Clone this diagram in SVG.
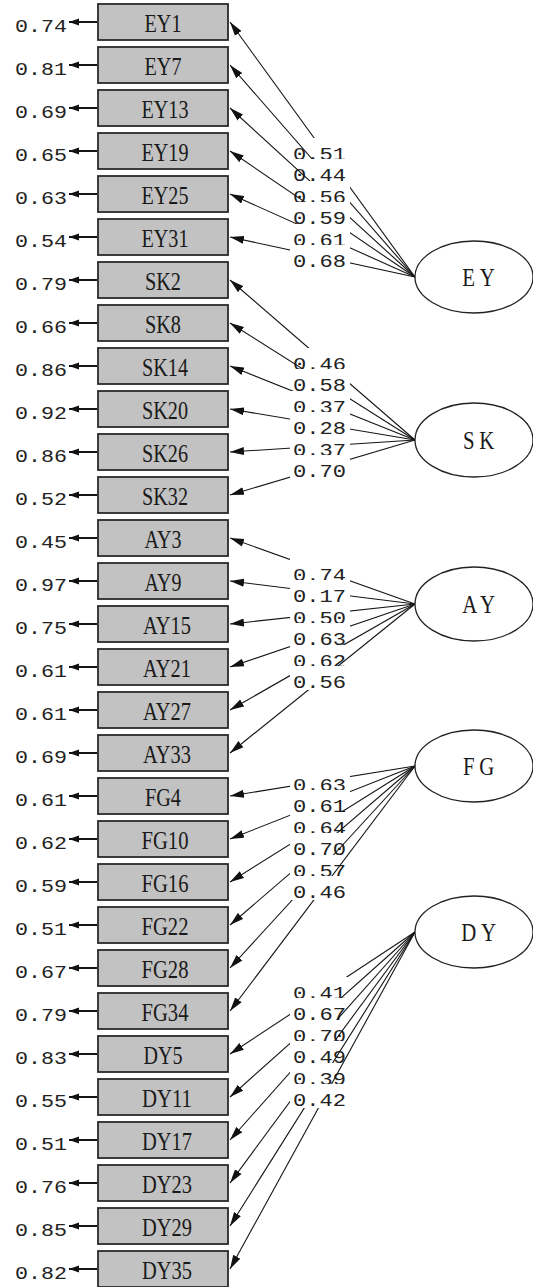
<svg xmlns="http://www.w3.org/2000/svg" width="533" height="1287" viewBox="0 0 533 1287">
<style>
.box{fill:#c2c2c2;stroke:#2a2a2a;stroke-width:1.8}
.bl{font-family:"Liberation Serif",serif;font-size:26px;fill:#1a1a1a;text-anchor:middle}
.num{font-family:"Liberation Mono",monospace;font-size:19px;fill:#222}
.p{stroke:#151515;stroke-width:1.1;fill:none;marker-end:url(#ah)}
.e{stroke:#151515;stroke-width:2;fill:none;marker-end:url(#eh)}
.lb{fill:#fff}
.lat{fill:#fff;stroke:#222;stroke-width:1.3}
.lt{font-family:"Liberation Serif",serif;font-size:26px;fill:#1a1a1a;text-anchor:middle;letter-spacing:6px}
</style>
<defs>
<marker id="ah" markerUnits="userSpaceOnUse" markerWidth="15" markerHeight="9" refX="14" refY="4.5" orient="auto"><path d="M0,0.5 L14,4.5 L0,8.5 z" fill="#111"/></marker>
<marker id="eh" markerUnits="userSpaceOnUse" markerWidth="11" markerHeight="9" refX="10" refY="4.5" orient="auto"><path d="M0,1 L10,4.5 L0,8 z" fill="#111"/></marker>
</defs>
<rect width="533" height="1287" fill="#fff"/>

<g id="errors">
<g id="e-EY1"><line class="e" x1="97" y1="22" x2="69" y2="22"/><text class="num" x="15" y="32" textLength="52" lengthAdjust="spacingAndGlyphs">0.74</text></g>
<g id="e-EY7"><line class="e" x1="97" y1="65" x2="69" y2="65"/><text class="num" x="15" y="75" textLength="52" lengthAdjust="spacingAndGlyphs">0.81</text></g>
<g id="e-EY13"><line class="e" x1="97" y1="108" x2="69" y2="108"/><text class="num" x="15" y="118" textLength="52" lengthAdjust="spacingAndGlyphs">0.69</text></g>
<g id="e-EY19"><line class="e" x1="97" y1="151" x2="69" y2="151"/><text class="num" x="15" y="161" textLength="52" lengthAdjust="spacingAndGlyphs">0.65</text></g>
<g id="e-EY25"><line class="e" x1="97" y1="194" x2="69" y2="194"/><text class="num" x="15" y="204" textLength="52" lengthAdjust="spacingAndGlyphs">0.63</text></g>
<g id="e-EY31"><line class="e" x1="97" y1="237" x2="69" y2="237"/><text class="num" x="15" y="247" textLength="52" lengthAdjust="spacingAndGlyphs">0.54</text></g>
<g id="e-SK2"><line class="e" x1="97" y1="280" x2="69" y2="280"/><text class="num" x="15" y="290" textLength="52" lengthAdjust="spacingAndGlyphs">0.79</text></g>
<g id="e-SK8"><line class="e" x1="97" y1="323" x2="69" y2="323"/><text class="num" x="15" y="333" textLength="52" lengthAdjust="spacingAndGlyphs">0.66</text></g>
<g id="e-SK14"><line class="e" x1="97" y1="366" x2="69" y2="366"/><text class="num" x="15" y="376" textLength="52" lengthAdjust="spacingAndGlyphs">0.86</text></g>
<g id="e-SK20"><line class="e" x1="97" y1="409" x2="69" y2="409"/><text class="num" x="15" y="419" textLength="52" lengthAdjust="spacingAndGlyphs">0.92</text></g>
<g id="e-SK26"><line class="e" x1="97" y1="452" x2="69" y2="452"/><text class="num" x="15" y="462" textLength="52" lengthAdjust="spacingAndGlyphs">0.86</text></g>
<g id="e-SK32"><line class="e" x1="97" y1="495" x2="69" y2="495"/><text class="num" x="15" y="505" textLength="52" lengthAdjust="spacingAndGlyphs">0.52</text></g>
<g id="e-AY3"><line class="e" x1="97" y1="538" x2="69" y2="538"/><text class="num" x="15" y="548" textLength="52" lengthAdjust="spacingAndGlyphs">0.45</text></g>
<g id="e-AY9"><line class="e" x1="97" y1="581" x2="69" y2="581"/><text class="num" x="15" y="591" textLength="52" lengthAdjust="spacingAndGlyphs">0.97</text></g>
<g id="e-AY15"><line class="e" x1="97" y1="624" x2="69" y2="624"/><text class="num" x="15" y="634" textLength="52" lengthAdjust="spacingAndGlyphs">0.75</text></g>
<g id="e-AY21"><line class="e" x1="97" y1="667" x2="69" y2="667"/><text class="num" x="15" y="677" textLength="52" lengthAdjust="spacingAndGlyphs">0.61</text></g>
<g id="e-AY27"><line class="e" x1="97" y1="710" x2="69" y2="710"/><text class="num" x="15" y="720" textLength="52" lengthAdjust="spacingAndGlyphs">0.61</text></g>
<g id="e-AY33"><line class="e" x1="97" y1="753" x2="69" y2="753"/><text class="num" x="15" y="763" textLength="52" lengthAdjust="spacingAndGlyphs">0.69</text></g>
<g id="e-FG4"><line class="e" x1="97" y1="796" x2="69" y2="796"/><text class="num" x="15" y="806" textLength="52" lengthAdjust="spacingAndGlyphs">0.61</text></g>
<g id="e-FG10"><line class="e" x1="97" y1="839" x2="69" y2="839"/><text class="num" x="15" y="849" textLength="52" lengthAdjust="spacingAndGlyphs">0.62</text></g>
<g id="e-FG16"><line class="e" x1="97" y1="882" x2="69" y2="882"/><text class="num" x="15" y="892" textLength="52" lengthAdjust="spacingAndGlyphs">0.59</text></g>
<g id="e-FG22"><line class="e" x1="97" y1="925" x2="69" y2="925"/><text class="num" x="15" y="935" textLength="52" lengthAdjust="spacingAndGlyphs">0.51</text></g>
<g id="e-FG28"><line class="e" x1="97" y1="968" x2="69" y2="968"/><text class="num" x="15" y="978" textLength="52" lengthAdjust="spacingAndGlyphs">0.67</text></g>
<g id="e-FG34"><line class="e" x1="97" y1="1011" x2="69" y2="1011"/><text class="num" x="15" y="1021" textLength="52" lengthAdjust="spacingAndGlyphs">0.79</text></g>
<g id="e-DY5"><line class="e" x1="97" y1="1054" x2="69" y2="1054"/><text class="num" x="15" y="1064" textLength="52" lengthAdjust="spacingAndGlyphs">0.83</text></g>
<g id="e-DY11"><line class="e" x1="97" y1="1097" x2="69" y2="1097"/><text class="num" x="15" y="1107" textLength="52" lengthAdjust="spacingAndGlyphs">0.55</text></g>
<g id="e-DY17"><line class="e" x1="97" y1="1140" x2="69" y2="1140"/><text class="num" x="15" y="1150" textLength="52" lengthAdjust="spacingAndGlyphs">0.51</text></g>
<g id="e-DY23"><line class="e" x1="97" y1="1183" x2="69" y2="1183"/><text class="num" x="15" y="1193" textLength="52" lengthAdjust="spacingAndGlyphs">0.76</text></g>
<g id="e-DY29"><line class="e" x1="97" y1="1226" x2="69" y2="1226"/><text class="num" x="15" y="1236" textLength="52" lengthAdjust="spacingAndGlyphs">0.85</text></g>
<g id="e-DY35"><line class="e" x1="97" y1="1269" x2="69" y2="1269"/><text class="num" x="15" y="1279" textLength="52" lengthAdjust="spacingAndGlyphs">0.82</text></g>
</g>

<g id="indicators">
<g id="EY1"><rect class="box" x="98" y="4" width="130" height="36"/><text class="bl" x="163" y="32" textLength="37" lengthAdjust="spacingAndGlyphs">EY1</text></g>
<g id="EY7"><rect class="box" x="98" y="47" width="130" height="36"/><text class="bl" x="163" y="75" textLength="37" lengthAdjust="spacingAndGlyphs">EY7</text></g>
<g id="EY13"><rect class="box" x="98" y="90" width="130" height="36"/><text class="bl" x="165" y="118" textLength="47" lengthAdjust="spacingAndGlyphs">EY13</text></g>
<g id="EY19"><rect class="box" x="98" y="133" width="130" height="36"/><text class="bl" x="165" y="161" textLength="47" lengthAdjust="spacingAndGlyphs">EY19</text></g>
<g id="EY25"><rect class="box" x="98" y="176" width="130" height="36"/><text class="bl" x="165" y="204" textLength="47" lengthAdjust="spacingAndGlyphs">EY25</text></g>
<g id="EY31"><rect class="box" x="98" y="219" width="130" height="36"/><text class="bl" x="165" y="247" textLength="47" lengthAdjust="spacingAndGlyphs">EY31</text></g>
<g id="SK2"><rect class="box" x="98" y="262" width="130" height="36"/><text class="bl" x="163" y="290" textLength="36" lengthAdjust="spacingAndGlyphs">SK2</text></g>
<g id="SK8"><rect class="box" x="98" y="305" width="130" height="36"/><text class="bl" x="163" y="333" textLength="36" lengthAdjust="spacingAndGlyphs">SK8</text></g>
<g id="SK14"><rect class="box" x="98" y="348" width="130" height="36"/><text class="bl" x="165" y="376" textLength="46" lengthAdjust="spacingAndGlyphs">SK14</text></g>
<g id="SK20"><rect class="box" x="98" y="391" width="130" height="36"/><text class="bl" x="165" y="419" textLength="46" lengthAdjust="spacingAndGlyphs">SK20</text></g>
<g id="SK26"><rect class="box" x="98" y="434" width="130" height="36"/><text class="bl" x="165" y="462" textLength="46" lengthAdjust="spacingAndGlyphs">SK26</text></g>
<g id="SK32"><rect class="box" x="98" y="477" width="130" height="36"/><text class="bl" x="165" y="505" textLength="46" lengthAdjust="spacingAndGlyphs">SK32</text></g>
<g id="AY3"><rect class="box" x="98" y="520" width="130" height="36"/><text class="bl" x="163" y="548" textLength="37" lengthAdjust="spacingAndGlyphs">AY3</text></g>
<g id="AY9"><rect class="box" x="98" y="563" width="130" height="36"/><text class="bl" x="163" y="591" textLength="37" lengthAdjust="spacingAndGlyphs">AY9</text></g>
<g id="AY15"><rect class="box" x="98" y="606" width="130" height="36"/><text class="bl" x="167" y="634" textLength="48" lengthAdjust="spacingAndGlyphs">AY15</text></g>
<g id="AY21"><rect class="box" x="98" y="649" width="130" height="36"/><text class="bl" x="167" y="677" textLength="48" lengthAdjust="spacingAndGlyphs">AY21</text></g>
<g id="AY27"><rect class="box" x="98" y="692" width="130" height="36"/><text class="bl" x="167" y="720" textLength="48" lengthAdjust="spacingAndGlyphs">AY27</text></g>
<g id="AY33"><rect class="box" x="98" y="735" width="130" height="36"/><text class="bl" x="167" y="763" textLength="48" lengthAdjust="spacingAndGlyphs">AY33</text></g>
<g id="FG4"><rect class="box" x="98" y="778" width="130" height="36"/><text class="bl" x="163" y="806" textLength="36" lengthAdjust="spacingAndGlyphs">FG4</text></g>
<g id="FG10"><rect class="box" x="98" y="821" width="130" height="36"/><text class="bl" x="165" y="849" textLength="47" lengthAdjust="spacingAndGlyphs">FG10</text></g>
<g id="FG16"><rect class="box" x="98" y="864" width="130" height="36"/><text class="bl" x="165" y="892" textLength="47" lengthAdjust="spacingAndGlyphs">FG16</text></g>
<g id="FG22"><rect class="box" x="98" y="907" width="130" height="36"/><text class="bl" x="165" y="935" textLength="47" lengthAdjust="spacingAndGlyphs">FG22</text></g>
<g id="FG28"><rect class="box" x="98" y="950" width="130" height="36"/><text class="bl" x="165" y="978" textLength="47" lengthAdjust="spacingAndGlyphs">FG28</text></g>
<g id="FG34"><rect class="box" x="98" y="993" width="130" height="36"/><text class="bl" x="165" y="1021" textLength="47" lengthAdjust="spacingAndGlyphs">FG34</text></g>
<g id="DY5"><rect class="box" x="98" y="1036" width="130" height="36"/><text class="bl" x="163" y="1064" textLength="39" lengthAdjust="spacingAndGlyphs">DY5</text></g>
<g id="DY11"><rect class="box" x="98" y="1079" width="130" height="36"/><text class="bl" x="167" y="1107" textLength="50" lengthAdjust="spacingAndGlyphs">DY11</text></g>
<g id="DY17"><rect class="box" x="98" y="1122" width="130" height="36"/><text class="bl" x="167" y="1150" textLength="50" lengthAdjust="spacingAndGlyphs">DY17</text></g>
<g id="DY23"><rect class="box" x="98" y="1165" width="130" height="36"/><text class="bl" x="167" y="1193" textLength="50" lengthAdjust="spacingAndGlyphs">DY23</text></g>
<g id="DY29"><rect class="box" x="98" y="1208" width="130" height="36"/><text class="bl" x="167" y="1236" textLength="50" lengthAdjust="spacingAndGlyphs">DY29</text></g>
<g id="DY35"><rect class="box" x="98" y="1251" width="130" height="36"/><text class="bl" x="167" y="1279" textLength="50" lengthAdjust="spacingAndGlyphs">DY35</text></g>
</g>

<g id="connectors">
<line class="p" x1="415" y1="277" x2="230" y2="22"/><rect class="lb" x="290" y="138" width="60" height="24"/><text class="num" x="293" y="159.5" textLength="53" lengthAdjust="spacingAndGlyphs">0.51</text>
<line class="p" x1="415" y1="277" x2="230" y2="65"/><rect class="lb" x="290" y="159" width="60" height="24"/><text class="num" x="293" y="180.5" textLength="53" lengthAdjust="spacingAndGlyphs">0.44</text>
<line class="p" x1="415" y1="277" x2="230" y2="108"/><rect class="lb" x="290" y="181" width="60" height="24"/><text class="num" x="293" y="202.5" textLength="53" lengthAdjust="spacingAndGlyphs">0.56</text>
<line class="p" x1="415" y1="277" x2="230" y2="151"/><rect class="lb" x="290" y="202" width="60" height="24"/><text class="num" x="293" y="223.5" textLength="53" lengthAdjust="spacingAndGlyphs">0.59</text>
<line class="p" x1="415" y1="277" x2="230" y2="194"/><rect class="lb" x="290" y="224" width="60" height="24"/><text class="num" x="293" y="245.5" textLength="53" lengthAdjust="spacingAndGlyphs">0.61</text>
<line class="p" x1="415" y1="277" x2="230" y2="237"/><rect class="lb" x="290" y="245" width="60" height="24"/><text class="num" x="293" y="266.5" textLength="53" lengthAdjust="spacingAndGlyphs">0.68</text>

<line class="p" x1="415" y1="440" x2="230" y2="280"/><rect class="lb" x="290" y="348" width="60" height="24"/><text class="num" x="293" y="369.5" textLength="53" lengthAdjust="spacingAndGlyphs">0.46</text>
<line class="p" x1="415" y1="440" x2="230" y2="323"/><rect class="lb" x="290" y="369" width="60" height="24"/><text class="num" x="293" y="390.5" textLength="53" lengthAdjust="spacingAndGlyphs">0.58</text>
<line class="p" x1="415" y1="440" x2="230" y2="366"/><rect class="lb" x="290" y="391" width="60" height="24"/><text class="num" x="293" y="412.5" textLength="53" lengthAdjust="spacingAndGlyphs">0.37</text>
<line class="p" x1="415" y1="440" x2="230" y2="409"/><rect class="lb" x="290" y="412" width="60" height="24"/><text class="num" x="293" y="433.5" textLength="53" lengthAdjust="spacingAndGlyphs">0.28</text>
<line class="p" x1="415" y1="440" x2="230" y2="452"/><rect class="lb" x="290" y="434" width="60" height="24"/><text class="num" x="293" y="455.5" textLength="53" lengthAdjust="spacingAndGlyphs">0.37</text>
<line class="p" x1="415" y1="440" x2="230" y2="495"/><rect class="lb" x="290" y="455" width="60" height="24"/><text class="num" x="293" y="476.5" textLength="53" lengthAdjust="spacingAndGlyphs">0.70</text>

<line class="p" x1="415" y1="604" x2="230" y2="538"/><rect class="lb" x="290" y="559" width="60" height="24"/><text class="num" x="293" y="580.5" textLength="53" lengthAdjust="spacingAndGlyphs">0.74</text>
<line class="p" x1="415" y1="604" x2="230" y2="581"/><rect class="lb" x="290" y="580" width="60" height="24"/><text class="num" x="293" y="601.5" textLength="53" lengthAdjust="spacingAndGlyphs">0.17</text>
<line class="p" x1="415" y1="604" x2="230" y2="624"/><rect class="lb" x="290" y="602" width="60" height="24"/><text class="num" x="293" y="623.5" textLength="53" lengthAdjust="spacingAndGlyphs">0.50</text>
<line class="p" x1="415" y1="604" x2="230" y2="667"/><rect class="lb" x="290" y="623" width="60" height="24"/><text class="num" x="293" y="644.5" textLength="53" lengthAdjust="spacingAndGlyphs">0.63</text>
<line class="p" x1="415" y1="604" x2="230" y2="710"/><rect class="lb" x="290" y="645" width="60" height="24"/><text class="num" x="293" y="666.5" textLength="53" lengthAdjust="spacingAndGlyphs">0.62</text>
<line class="p" x1="415" y1="604" x2="230" y2="753"/><rect class="lb" x="290" y="666" width="60" height="24"/><text class="num" x="293" y="687.5" textLength="53" lengthAdjust="spacingAndGlyphs">0.56</text>

<line class="p" x1="415" y1="766" x2="230" y2="796"/><rect class="lb" x="290" y="769" width="60" height="24"/><text class="num" x="293" y="790.5" textLength="53" lengthAdjust="spacingAndGlyphs">0.63</text>
<line class="p" x1="415" y1="766" x2="230" y2="839"/><rect class="lb" x="290" y="790" width="60" height="24"/><text class="num" x="293" y="811.5" textLength="53" lengthAdjust="spacingAndGlyphs">0.61</text>
<line class="p" x1="415" y1="766" x2="230" y2="882"/><rect class="lb" x="290" y="812" width="60" height="24"/><text class="num" x="293" y="833.5" textLength="53" lengthAdjust="spacingAndGlyphs">0.64</text>
<line class="p" x1="415" y1="766" x2="230" y2="925"/><rect class="lb" x="290" y="833" width="60" height="24"/><text class="num" x="293" y="854.5" textLength="53" lengthAdjust="spacingAndGlyphs">0.70</text>
<line class="p" x1="415" y1="766" x2="230" y2="968"/><rect class="lb" x="290" y="855" width="60" height="24"/><text class="num" x="293" y="876.5" textLength="53" lengthAdjust="spacingAndGlyphs">0.57</text>
<line class="p" x1="415" y1="766" x2="230" y2="1011"/><rect class="lb" x="290" y="876" width="60" height="24"/><text class="num" x="293" y="897.5" textLength="53" lengthAdjust="spacingAndGlyphs">0.46</text>

<line class="p" x1="415" y1="932" x2="230" y2="1054"/><rect class="lb" x="290" y="977" width="60" height="24"/><text class="num" x="293" y="998.5" textLength="53" lengthAdjust="spacingAndGlyphs">0.41</text>
<line class="p" x1="415" y1="932" x2="230" y2="1097"/><rect class="lb" x="290" y="998" width="60" height="24"/><text class="num" x="293" y="1019.5" textLength="53" lengthAdjust="spacingAndGlyphs">0.67</text>
<line class="p" x1="415" y1="932" x2="230" y2="1140"/><rect class="lb" x="290" y="1020" width="60" height="24"/><text class="num" x="293" y="1041.5" textLength="53" lengthAdjust="spacingAndGlyphs">0.70</text>
<line class="p" x1="415" y1="932" x2="230" y2="1183"/><rect class="lb" x="290" y="1041" width="60" height="24"/><text class="num" x="293" y="1062.5" textLength="53" lengthAdjust="spacingAndGlyphs">0.49</text>
<line class="p" x1="415" y1="932" x2="230" y2="1226"/><rect class="lb" x="290" y="1063" width="60" height="24"/><text class="num" x="293" y="1084.5" textLength="53" lengthAdjust="spacingAndGlyphs">0.39</text>
<line class="p" x1="415" y1="932" x2="230" y2="1269"/><rect class="lb" x="290" y="1084" width="60" height="24"/><text class="num" x="293" y="1105.5" textLength="53" lengthAdjust="spacingAndGlyphs">0.42</text>
</g>

<g id="EY"><ellipse class="lat" cx="474" cy="277" rx="59" ry="36"/><text class="lt" transform="translate(481,286) scale(0.8,1)" x="0" y="0">EY</text></g>
<g id="SK"><ellipse class="lat" cx="474" cy="440" rx="59" ry="37"/><text class="lt" transform="translate(481,449) scale(0.8,1)" x="0" y="0">SK</text></g>
<g id="AY"><ellipse class="lat" cx="474" cy="604" rx="59" ry="37"/><text class="lt" transform="translate(481,613) scale(0.8,1)" x="0" y="0">AY</text></g>
<g id="FG"><ellipse class="lat" cx="474" cy="766" rx="59" ry="36"/><text class="lt" transform="translate(481,775) scale(0.8,1)" x="0" y="0">FG</text></g>
<g id="DY"><ellipse class="lat" cx="474" cy="932" rx="59" ry="36"/><text class="lt" transform="translate(481,941) scale(0.8,1)" x="0" y="0">DY</text></g>
</svg>
